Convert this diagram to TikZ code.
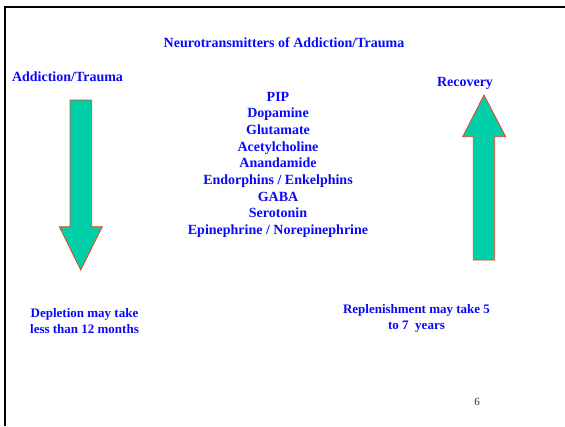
\documentclass[tikz,border=0pt]{standalone}
\usepackage{fontspec}
\setmainfont{Liberation Serif}
\definecolor{slideblue}{RGB}{10,10,250}
\definecolor{arrowfill}{RGB}{0,208,170}
\definecolor{arrowline}{RGB}{250,60,30}
\tikzset{
  lbl/.style={text=slideblue, font=\bfseries\fontsize{14}{16.7}\selectfont, align=center, inner sep=0pt},
  small lbl/.style={lbl, font=\bfseries\fontsize{13}{15.5}\selectfont},
  bigarrow/.style={fill=arrowfill, draw=arrowline, line width=0.8pt}
}
\begin{document}
\begin{tikzpicture}[x=1pt, y=-1pt]
\useasboundingbox (0,0) rectangle (565,426);
\fill[white] (0,0) rectangle (565,426);
\draw[line width=2.5pt] (5,426) -- (5,7) -- (565,7);

% down arrow, depletion
\draw[bigarrow] (70,100) -- (91.7,100) -- (91.7,226.7) -- (102.3,226.7) -- (80.7,270) -- (59.3,226.7) -- (70,226.7) -- cycle;
% up arrow, recovery
\draw[bigarrow] (473.3,260) -- (494.7,260) -- (494.7,136.7) -- (505.7,136.7) -- (484,95) -- (462.7,136.7) -- (473.3,136.7) -- cycle;

\node[lbl] (title) at (284,43) {Neurotransmitters of Addiction/Trauma};
\node[lbl] (addict) at (67.5,77) {Addiction/Trauma};
\node[lbl] (recov) at (465,83) {Recovery};

\node[lbl] (list) at (278,164.8) {PIP\\Dopamine\\Glutamate\\Acetylcholine\\Anandamide\\
  Endorphins / Enkelphins\\GABA\\Serotonin\\Epinephrine / Norepinephrine};

\node[small lbl] (deplete) at (84.5,321) {Depletion may take\\less than 12 months};
\node[small lbl] (replen) at (416.5,318.5) {Replenishment may take 5\\to 7~~years};

\node[inner sep=0pt, text=black!80, font=\fontsize{11}{13}\selectfont] (page) at (477,402) {6};
\end{tikzpicture}
\end{document}
